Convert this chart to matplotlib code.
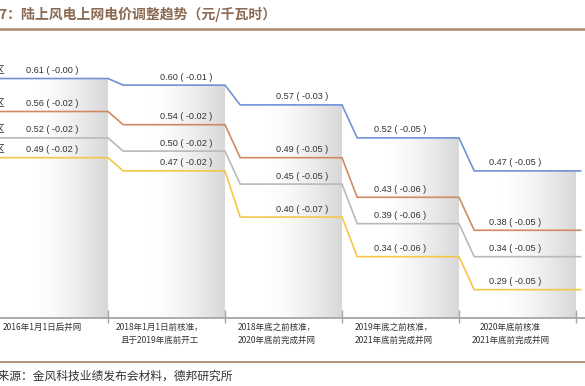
import matplotlib.pyplot as plt
import numpy as np

plt.rcParams['font.family'] = ['Noto Sans CJK SC', 'DejaVu Sans']

# 电价数据（元/千瓦时）
periods = ["2016年1月1日后并网",
           "2018年1月1日前核准，\n且于2019年底前开工",
           "2018年底之前核准，\n2020年底前完成并网",
           "2019年底之前核准，\n2021年底前完成并网",
           "2020年底前核准\n2021年底前完成并网"]
zones = ["Ⅰ类资源区", "Ⅱ类资源区", "Ⅲ类资源区", "Ⅳ类资源区"]
price_1 = [0.61, 0.60, 0.57, 0.52, 0.47]
price_2 = [0.56, 0.54, 0.49, 0.43, 0.38]
price_3 = [0.52, 0.50, 0.45, 0.39, 0.34]
price_4 = [0.49, 0.47, 0.40, 0.34, 0.29]
change_1 = [-0.00, -0.01, -0.03, -0.05, -0.05]
change_2 = [-0.02, -0.02, -0.05, -0.06, -0.05]
change_3 = [-0.02, -0.02, -0.05, -0.06, -0.05]
change_4 = [-0.02, -0.02, -0.07, -0.06, -0.05]

prices = [price_1, price_2, price_3, price_4]
changes = [change_1, change_2, change_3, change_4]
colors = ['#6f93d6', '#d08a63', '#b9b9b9', '#f6c64a']

fig = plt.figure(figsize=(5.85, 3.86), dpi=100)
ax = fig.add_axes([0, 0, 1, 1])
ax.set_xlim(-0.423, 4.577)
ax.set_ylim(0.144, 0.729)
ax.axis('off')

n = len(periods)
base = 0.247   # 横轴位置
slope = 0.13   # 台阶斜线宽度

# 灰色渐变背景柱
t = np.linspace(0, 1, 200)
alpha = np.clip((t - 0.35) / 0.65, 0, 1) ** 1.5 * 0.7
grad = np.zeros((1, 200, 4))
grad[..., :3] = 0.78
grad[..., 3] = alpha
for i in range(n):
    ax.imshow(grad, extent=(i - 0.5, i + 0.5, base, price_1[i]),
              aspect='auto', zorder=0, interpolation='bilinear')

# 台阶折线
for vals, c in zip(prices, colors):
    xs, ys = [-0.6], [vals[0]]
    for i in range(n):
        if i > 0:
            xs.append(i - 0.5 + slope)
            ys.append(vals[i])
        xs.append(i + 0.5 if i < n - 1 else 4.54)
        ys.append(vals[i])
    ax.plot(xs, ys, color=c, lw=1.2, zorder=2, solid_joinstyle='miter')

# 数值标签
label_dx = [0.02, 0.17, 0.16, 0.0, -0.02]
for vals, chg in zip(prices, changes):
    for i in range(n):
        ax.annotate(f"{vals[i]:.2f} ( {chg[i]:.2f} )", (i + label_dx[i], vals[i]),
                    xytext=(0, 2.5), textcoords='offset points',
                    ha='center', va='bottom', fontsize=6.6, color='#333333',
                    family=['Liberation Sans', 'DejaVu Sans'])

# 左侧被裁切的资源区名称
for z, vals in zip(zones, prices):
    ax.annotate(z, (-0.423, vals[0]), xytext=(3.5, 2.5), textcoords='offset points',
                ha='right', va='bottom', fontsize=7, color='#333333')

# 横轴和刻度
ax.plot([-0.6, 4.7], [base, base], color='#a6a6a6', lw=1.3, zorder=3)
ax.vlines([i + 0.5 for i in range(n)], base - 0.008, base + 0.012,
          color='#a6a6a6', lw=1.0, zorder=3)

# 横轴标签
for i, p in enumerate(periods):
    ax.text(i - 0.06, 0.239, p, ha='center', va='top', fontsize=6.1,
            color='#333333', linespacing=1.5)

# 标题与来源
fig.text(-0.026, 0.962, "图7：陆上风电上网电价调整趋势（元/千瓦时）", ha='left', va='center',
         fontsize=10, color='#8a6a52', weight='bold')
fig.add_artist(plt.Line2D([0, 1], [0.924, 0.924], color='#b08b6e', lw=1.9))
fig.add_artist(plt.Line2D([0, 1], [0.062, 0.062], color='#b08b6e', lw=1.3))
fig.text(-0.043, 0.026, "资料来源：金风科技业绩发布会材料，德邦研究所", ha='left', va='center',
         fontsize=8.5, color='#333333')

fig.savefig('out.png', dpi=100)
